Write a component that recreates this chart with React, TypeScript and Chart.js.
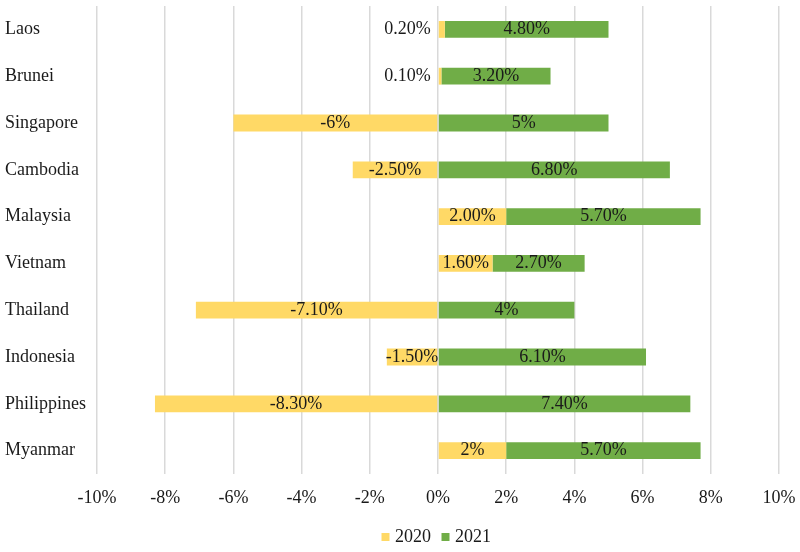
import React, { useEffect, useRef } from 'react';
import { Chart, registerables } from 'chart.js';

Chart.register(...registerables);

const countries = ['Laos', 'Brunei', 'Singapore', 'Cambodia', 'Malaysia', 'Vietnam', 'Thailand', 'Indonesia', 'Philippines', 'Myanmar'];
const growth2020 = [0.2, 0.1, -6, -2.5, 2, 1.6, -7.1, -1.5, -8.3, 2];
const growth2021 = [4.8, 3.2, 5, 6.8, 5.7, 2.7, 4, 6.1, 7.4, 5.7];
const labels2020 = ['0.20%', '0.10%', '-6%', '-2.50%', '2.00%', '1.60%', '-7.10%', '-1.50%', '-8.30%', '2%'];
const labels2021 = ['4.80%', '3.20%', '5%', '6.80%', '5.70%', '2.70%', '4%', '6.10%', '7.40%', '5.70%'];
const seriesNames = ['2020', '2021'];
const xMin = -10;
const xMax = 10;
const xStep = 2;

const FONT = "'Liberation Serif', 'Times New Roman', serif";
const TEXT = '#1a1a1a';

const valueLabelPlugin = {
  id: 'valueLabels',
  afterDatasetsDraw(chart: any) {
    const ctx = chart.ctx;
    ctx.save();
    ctx.font = `18px ${FONT}`;
    ctx.fillStyle = TEXT;
    ctx.textBaseline = 'middle';
    chart.data.datasets.forEach((ds: any, di: number) => {
      const meta = chart.getDatasetMeta(di);
      const texts: string[] = ds.valueLabels;
      meta.data.forEach((bar: any, i: number) => {
        const { x, y, base } = bar.getProps(['x', 'y', 'base'], true);
        const w = Math.abs(x - base);
        if (w < 12) {
          ctx.textAlign = 'right';
          ctx.fillText(texts[i], Math.min(x, base) - 8, y);
        } else {
          ctx.textAlign = 'center';
          ctx.fillText(texts[i], (x + base) / 2, y);
        }
      });
    });
    ctx.restore();
  },
};

export default function App() {
  const canvasRef = useRef<HTMLCanvasElement | null>(null);

  useEffect(() => {
    if (!canvasRef.current) return;
    const chart = new Chart(canvasRef.current, {
      type: 'bar',
      data: {
        labels: countries,
        datasets: [
          {
            label: seriesNames[0],
            data: growth2020,
            backgroundColor: '#FFD966',
            borderWidth: 0,
            categoryPercentage: 1,
            barPercentage: 0.36,
            valueLabels: labels2020,
          } as any,
          {
            label: seriesNames[1],
            data: growth2021,
            backgroundColor: '#70AD47',
            borderWidth: 0,
            categoryPercentage: 1,
            barPercentage: 0.36,
            valueLabels: labels2021,
          } as any,
        ],
      },
      options: {
        indexAxis: 'y',
        responsive: false,
        animation: false,
        devicePixelRatio: 1,
        layout: { padding: { left: 5, right: 21, top: 6, bottom: -4 } },
        scales: {
          x: {
            stacked: true,
            min: xMin,
            max: xMax,
            grid: { color: '#D9D9D9', lineWidth: 1.5, drawTicks: false },
            border: { display: false },
            ticks: {
              stepSize: xStep,
              padding: 13,
              color: TEXT,
              font: { family: FONT, size: 18 },
              callback: (v: any) => `${v}%`,
            },
            afterFit: (scale: any) => {
              scale.height = 40;
              scale.paddingLeft = 0;
              scale.paddingRight = 0;
            },
          },
          y: {
            stacked: true,
            grid: { display: false },
            border: { display: false },
            ticks: {
              crossAlign: 'far',
              color: TEXT,
              font: { family: FONT, size: 18 },
            },
            afterFit: (scale: any) => {
              scale.width = 92;
              scale.paddingTop = 0;
              scale.paddingBottom = 0;
            },
          },
        },
        plugins: {
          legend: {
            position: 'bottom',
            fullSize: false,
            labels: {
              usePointStyle: true,
              pointStyle: 'rect',
              boxWidth: 1,
              boxHeight: 8,
              padding: 14,
              color: TEXT,
              font: { family: FONT, size: 18 },
            },
          },
          tooltip: { enabled: false },
        },
      },
      plugins: [valueLabelPlugin],
    });
    return () => chart.destroy();
  }, []);

  return (
    <div style={{ position: 'absolute', left: 0, top: 0, width: 800, height: 552, background: '#fff' }}>
      <canvas ref={canvasRef} width={800} height={552} />
    </div>
  );
}
